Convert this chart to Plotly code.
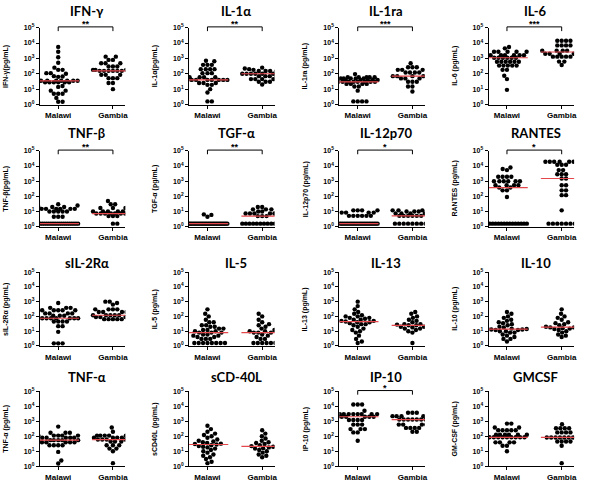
import numpy as np
import plotly.graph_objects as go

groups = ["Malawi", "Gambia"]
titles = ["IFN-γ", "IL-1α", "IL-1ra", "IL-6", "TNF-β", "TGF-α", "IL-12p70", "RANTES",
          "sIL-2Rα", "IL-5", "IL-13", "IL-10", "TNF-α", "sCD-40L", "IP-10", "GMCSF"]
ytitles = ["IFN-γ(pg/mL)", "IL-1α(pg/mL)", "IL-1ra (pg/mL)", "IL-6 (pg/mL)",
           "TNF-β(pg/mL)", "TGF-α (pg/mL)", "IL-12p70 (pg/mL)", "RANTES (pg/mL)",
           "sIL-2Rα (pg/mL)", "IL-5 (pg/mL)", "IL-13 (pg/mL)", "IL-10 (pg/mL)",
           "TNF-α (pg/mL)", "sCD40L (pg/mL)", "IP-10 (pg/mL)", "GM-CSF (pg/mL)"]
stars = ["**", "**", "***", "***", "**", "**", "*", "*", "", "", "", "", "", "", "*", ""]
tick_vals = [1, 10, 100, 1000, 10000, 100000]
tick_text = ["10<sup>0</sup>", "10<sup>1</sup>", "10<sup>2</sup>",
             "10<sup>3</sup>", "10<sup>4</sup>", "10<sup>5</sup>"]

# values (pg/mL)
ifng_m = [5600, 2700, 1200, 520, 250, 180, 180, 110, 110, 100, 66, 70, 63] + [35]*8 + [28]*6 + [16, 14, 8, 8, 5, 5, 5, 2.7, 1.5, 1.5]
ifng_g = [1300, 1300, 800, 800, 480, 480, 480, 300, 300, 300] + [180]*4 + [155]*6 + [85]*3 + [52]*3 + [25, 25, 10]
il1a_m = [700, 650] + [380]*3 + [200]*4 + [110]*3 + [60]*4 + [40]*8 + [25]*3 + [19, 19, 10, 6, 1.6, 1.6]
il1a_g = [250, 220, 200, 180] + [150]*4 + [100]*7 + [70]*4 + [45]*4 + [30]*3 + [20]
il1ra_m = [95] + [60]*5 + [50]*6 + [40]*5 + [30]*8 + [22]*4 + [15, 15, 8] + [1.6]*4
il1ra_g = [480] + [265]*3 + [180]*4 + [120]*4 + [70]*6 + [50]*3 + [30]*3 + [15, 15, 7]
il6_m = [5500, 4500] + [2700]*5 + [1600]*7 + [1100]*6 + [600]*6 + [340]*5 + [180, 180, 75, 45, 9]
il6_g = [14000]*4 + [7000]*4 + [3200]*5 + [2000]*5 + [1300]*5 + [620, 620, 370]
tnfb_m = [30, 25] + [20]*3 + [15]*6 + [10]*5 + [4.5]*3 + [1.6]*20
tnfb_g = [50, 30, 30] + [17]*3 + [10]*6 + [7.4]*8 + [5]*3 + [1.6, 1.6]
tgfa_m = [6, 6.5, 4.5] + [1.6]*30
tgfa_g = [20, 20] + [14]*3 + [10]*2 + [7.5]*6 + [5]*3 + [1.6]*12
il12_m = [12]*4 + [8.5]*4 + [5.2]*6 + [1.6]*25
il12_g = [12]*4 + [10]*3 + [7.4]*5 + [5.2]*6 + [1.6]*9
rantes_m = [8000, 6300, 5400] + [1950]*4 + [1000]*6 + [540]*4 + [380]*2 + [250]*2 + [90] + [1.6]*15
rantes_g = [19000]*7 + [12000]*3 + [5400]*2 + [2900]*3 + [1500]*2 + [540]*2 + [250]*2 + [120]*2 + [12] + [1.6]*7
sil2ra_m = [800] + [380]*3 + [260]*6 + [160]*4 + [110]*3 + [75]*8 + [45]*4 + [22]*2 + [9] + [1.5]*3
sil2ra_g = [1000, 1000, 800, 630] + [300]*5 + [200]*4 + [120]*6 + [90]*4 + [65]*5
il5_m = [300, 150, 100, 60, 40, 40, 25, 25, 20, 20, 15, 15, 12, 12, 10, 10, 8, 8, 8, 6, 6, 5, 5, 4, 4, 3, 3, 3] + [1.6]*8
il5_g = [150, 100, 60, 40, 30, 25, 20, 15, 12, 10, 10, 8, 8, 8, 6, 5, 4, 3, 3] + [1.6]*6
il13_m = [1000, 500, 300, 200, 150, 120, 100, 100, 80, 80, 70, 60, 60, 50, 50, 45, 40, 40, 35, 30, 30, 25, 20, 15, 12, 10, 8, 5, 3, 2, 1.6]
il13_g = [200, 150, 100, 80, 60, 50, 40, 35, 30, 30, 28, 25, 25, 22, 20, 20, 18, 15, 15, 12, 10, 8, 1.6]
il10_m = [200, 150, 100, 80, 60, 50, 40, 35, 30, 25, 20, 18, 16, 15, 14, 13, 13, 12, 12, 10, 10, 8, 8, 6, 5, 4, 3, 3, 2]
il10_g = [300, 150, 100, 80, 60, 40, 35, 30, 25, 22, 20, 18, 18, 16, 15, 14, 12, 10, 8, 6, 5, 4]
tnfa_m = [440] + [170]*3 + [110]*5 + [80]*5 + [55]*6 + [40]*5 + [25]*4 + [9, 2.4, 1.5]
tnfa_g = [380, 200] + [110]*5 + [80]*6 + [60]*4 + [45]*3 + [25]*3 + [15, 15, 10, 1.6]
scd40l_m = [500, 300, 200, 150, 120, 100, 80, 60, 50, 45, 40, 35, 32, 30, 28, 25, 22, 20, 18, 15, 12, 10, 8, 6, 5, 4, 3, 2, 1.6]
scd40l_g = [250, 150, 100, 70, 50, 40, 35, 30, 25, 22, 20, 18, 16, 15, 12, 10, 8, 6, 5, 4]
ip10_m = [13000]*3 + [5000] + [3000]*8 + [2000]*6 + [1200]*4 + [600]*3 + [300]*3 + [180, 180, 50]
ip10_g = [3700]*3 + [2200]*6 + [1300]*7 + [600]*4 + [360]*4 + [200]*2
gmcsf_m = [700, 700, 380, 380] + [250]*5 + [125]*6 + [85]*10 + [39]*4 + [23, 23, 10]
gmcsf_g = [630] + [340]*4 + [180]*4 + [83]*8 + [45]*4 + [23, 1.6]

data = [(ifng_m, ifng_g), (il1a_m, il1a_g), (il1ra_m, il1ra_g), (il6_m, il6_g),
        (tnfb_m, tnfb_g), (tgfa_m, tgfa_g), (il12_m, il12_g), (rantes_m, rantes_g),
        (sil2ra_m, sil2ra_g), (il5_m, il5_g), (il13_m, il13_g), (il10_m, il10_g),
        (tnfa_m, tnfa_g), (scd40l_m, scd40l_g), (ip10_m, ip10_g), (gmcsf_m, gmcsf_g)]

W, H = 600, 483
col_left = [40, 190, 341, 491]
pw = 86
row_tb = [(24, 102), (149, 226), (272, 347), (393, 469)]
title_y = [1.22, 1.23, 1.12, 1.19]
PPC = 55.0
XR = [-18.5 / PPC, (pw - 18.5) / PPC]
FONT = "Liberation Sans, Arial, sans-serif"
TFONT = "Lato, Open Sans, sans-serif"


def swarm(vals, ppd, d=4.4, maxw=20.0):
    ly = np.log10(np.asarray(vals, float)) * ppd
    n = len(ly)
    xs = np.zeros(n)
    order = list(np.argsort(ly, kind="stable"))
    px, py = [], []
    uniq, counts = np.unique(ly, return_counts=True)
    done = set()
    side = 1
    for i in order:
        y = ly[i]
        cnt = counts[np.searchsorted(uniq, y)]
        if cnt * d > 2 * maxw + d:
            if y in done:
                continue
            idx = [j for j in order if ly[j] == y]
            offs = np.linspace(-maxw, maxw, cnt)
            for j, o in zip(idx, offs):
                xs[j] = o
                px.append(o)
                py.append(y)
            done.add(y)
            continue
        cands = [0.0]
        for a, b in zip(px, py):
            dy = abs(b - y)
            if dy < d:
                dx = np.sqrt(d * d - dy * dy)
                cands += [a + dx, a - dx]
        side = -side
        cands.sort(key=lambda c: (round(abs(c), 3), -side * c))
        best = None
        for c in cands:
            if abs(c) > maxw + 1e-9:
                continue
            if all((c - a) ** 2 + (y - b) ** 2 >= d * d - 1e-6 for a, b in zip(px, py)):
                best = c
                break
        if best is None:
            grid = np.linspace(-maxw, maxw, 41)
            md = [min((g - a) ** 2 + (y - b) ** 2 for a, b in zip(px, py)) for g in grid]
            best = grid[int(np.argmax(md))]
        xs[i] = best
        px.append(best)
        py.append(y)
    return xs / PPC


fig = go.Figure()
shapes = []
annots = []
for k in range(16):
    r, c = divmod(k, 4)
    sfx = "" if k == 0 else str(k + 1)
    top, bot = row_tb[r]
    ppd = (bot - top) / 5.0
    xd = [col_left[c] / W, (col_left[c] + pw) / W]
    yd = [1 - bot / H, 1 - top / H]
    fig.update_layout({
        f"xaxis{sfx}": dict(domain=xd, range=XR, anchor=f"y{sfx}", tickvals=[0, 1], ticktext=groups,
                             showline=True, linecolor="black", linewidth=1, ticks="outside", ticklen=3,
                             tickcolor="black", showgrid=False, zeroline=False, fixedrange=True,
                             tickfont=dict(size=8, family=FONT, color="black", weight="bold")),
        f"yaxis{sfx}": dict(domain=yd, type="log", range=[0, 5], anchor=f"x{sfx}", tickvals=tick_vals,
                             ticktext=tick_text, showline=True, linecolor="black", linewidth=1,
                             ticks="outside", ticklen=3, tickcolor="black", showgrid=False,
                             zeroline=False, tickfont=dict(size=7, family=FONT, color="black", weight="bold")),
    })
    for g, vals in enumerate(data[k]):
        offs = swarm(vals, ppd)
        fig.add_trace(go.Scatter(x=g + offs, y=vals, mode="markers", xaxis=f"x{sfx}", yaxis=f"y{sfx}",
                                 marker=dict(color="black", size=4.4, line=dict(width=0)),
                                 showlegend=False, hoverinfo="skip"))
        med = float(np.median(vals))
        fig.add_trace(go.Scatter(x=[g - 0.38, g + 0.38], y=[med, med], mode="lines",
                                 xaxis=f"x{sfx}", yaxis=f"y{sfx}",
                                 line=dict(color="#e4474c", width=1.2),
                                 showlegend=False, hoverinfo="skip"))
    annots.append(dict(text=f"<b>{titles[k]}</b>", xref=f"x{sfx} domain", yref=f"y{sfx} domain",
                       x=0.55, y=title_y[r], showarrow=False, xanchor="center", yanchor="middle",
                       font=dict(size=13, family=TFONT, color="black")))
    annots.append(dict(text=f"<b>{ytitles[k]}</b>", xref="paper", yref=f"y{sfx} domain",
                       x=(col_left[c] - 34) / W, y=0.5, textangle=-90, showarrow=False,
                       xanchor="center", yanchor="middle",
                       font=dict(size=7, family=FONT, color="black")))
    if stars[k]:
        yt, yb = 1.01, 0.955
        for (xa, ya, xb, yb2) in [(0, yb, 0, yt), (0, yt, 1, yt), (1, yt, 1, yb)]:
            shapes.append(dict(type="line", xref=f"x{sfx}", yref=f"y{sfx} domain",
                               x0=xa, y0=ya, x1=xb, y1=yb2, line=dict(color="black", width=1)))
        annots.append(dict(text=f"<b>{stars[k]}</b>", xref=f"x{sfx}", yref=f"y{sfx} domain",
                           x=0.5, y=yt, showarrow=False, xanchor="center", yanchor="bottom",
                           yshift=-3, borderpad=0, font=dict(size=9, family=FONT, color="black")))

fig.update_layout(width=W, height=H, margin=dict(l=0, r=0, t=0, b=0), plot_bgcolor="white",
                  paper_bgcolor="white", shapes=shapes, annotations=annots, showlegend=False)
fig.write_html("out.html", config={"displayModeBar": False},
               post_script="document.body.style.margin='0';document.body.style.padding='0';")
